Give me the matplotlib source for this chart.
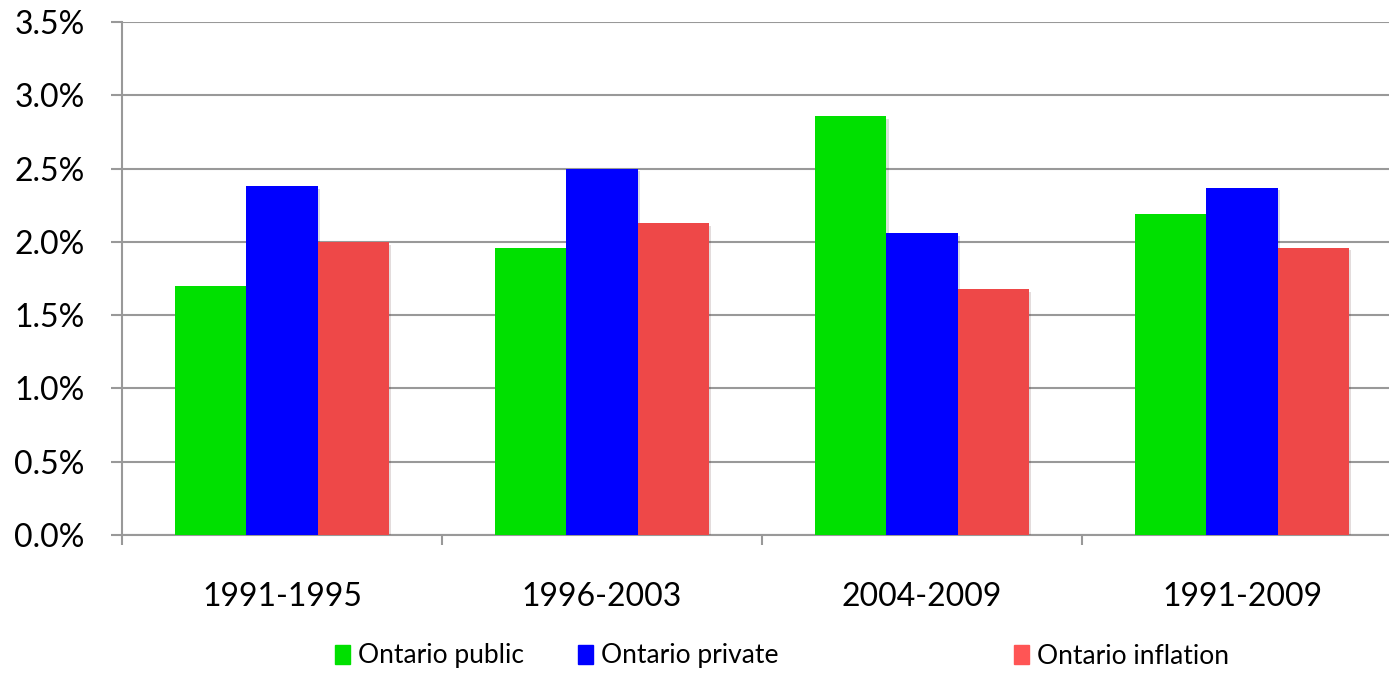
import matplotlib
matplotlib.use("Agg")
import matplotlib.pyplot as plt
import matplotlib.patheffects as pe
from matplotlib.patches import Patch
from matplotlib.ticker import FuncFormatter
import numpy as np

categories = ["1991-1995", "1996-2003", "2004-2009", "1991-2009"]
series_names = ["Ontario public", "Ontario private", "Ontario inflation"]
public = [1.70, 1.96, 2.86, 2.19]
private = [2.38, 2.50, 2.06, 2.37]
inflation = [2.00, 2.13, 1.68, 1.96]
yticks = [0.0, 0.5, 1.0, 1.5, 2.0, 2.5, 3.0, 3.5]

bar_colors = ["#00E000", "#0000FF", "#EE4848"]
legend_colors = ["#00E000", "#0000FF", "#FF5555"]
grid_col = "#999999"

W, H = 1389, 673
fig = plt.figure(figsize=(W / 100, H / 100), dpi=100)
ax = fig.add_axes([122 / W, (H - 535) / H, 1280 / W, (535 - 22) / H])

x = np.arange(len(categories))
bw = 0.222
shadow = [pe.SimplePatchShadow(offset=(2, -2), alpha=0.15), pe.Normal()]
for i, vals in enumerate([public, private, inflation]):
    ax.bar(x + (i - 1) * bw, vals, width=bw, color=bar_colors[i],
           zorder=3, path_effects=shadow)

ax.set_xlim(-0.5, len(categories) - 0.5)
ax.set_ylim(yticks[0], yticks[-1])
ax.set_yticks(yticks)
ax.yaxis.set_major_formatter(FuncFormatter(lambda v, p: f"{v:.1f}%"))
ax.grid(axis="y", color=grid_col, linewidth=1.5, zorder=0)
ax.set_axisbelow(True)

ax.set_xticks(x)
ax.set_xticklabels(categories)
ax.set_xticks(np.arange(len(categories) + 1) - 0.5, minor=True)
ax.tick_params(axis="x", which="major", length=0, pad=34)
ax.tick_params(axis="x", which="minor", length=7.5, width=1.5, color=grid_col, direction="out")
ax.tick_params(axis="y", length=8, width=1.5, color=grid_col, direction="out", pad=19)

for lab in ax.get_xticklabels() + ax.get_yticklabels():
    lab.set_fontfamily(["Lato", "DejaVu Sans"])
    lab.set_fontsize(23)
    lab.set_color("black")

for s in ["top", "right"]:
    ax.spines[s].set_visible(False)
for s in ["left", "bottom"]:
    ax.spines[s].set_color(grid_col)
    ax.spines[s].set_linewidth(1.5)

leg_x = [335, 578, 1014]
for i, name in enumerate(series_names):
    fig.legend(handles=[Patch(color=legend_colors[i])], labels=[name],
               loc="center left", bbox_to_anchor=(leg_x[i] / W, 1 - 656 / H),
               frameon=False, borderpad=0, borderaxespad=0,
               handlelength=0.57, handleheight=0.76, handletextpad=0.3,
               prop={"family": ["Lato", "DejaVu Sans"], "size": 19})

fig.savefig("out.png", dpi=100)
